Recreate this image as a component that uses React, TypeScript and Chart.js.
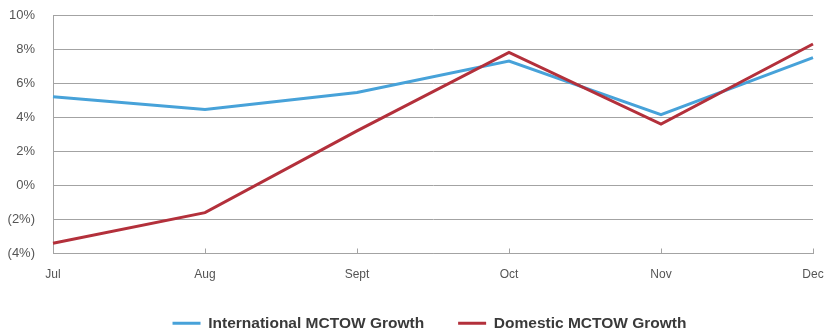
import React, { useEffect, useRef } from "react";
import { Chart, registerables } from "chart.js";

Chart.register(...registerables);

const months = ["Jul", "Aug", "Sept", "Oct", "Nov", "Dec"];
const internationalGrowth = [5.2, 4.45, 5.45, 7.3, 4.15, 7.5];
const domesticGrowth = [-3.4, -1.6, 3.2, 7.8, 3.6, 8.3];
const yTicks = [-4, -2, 0, 2, 4, 6, 8, 10];

const BLUE = "#47a2d9";
const RED = "#b3303b";
const GRID = "#a3a3a3";
const FONT = "'Liberation Sans', Arial, Helvetica, sans-serif";

const formatPct = (v: number) => (v < 0 ? `(${Math.abs(v)}%)` : `${v}%`);

// Short tick marks pointing up into the plot from the category axis
const innerTicks = {
  id: "innerTicks",
  afterDatasetsDraw(chart: any) {
    const x = chart.scales.x;
    const { ctx } = chart;
    const bottom = chart.chartArea.bottom;
    ctx.save();
    ctx.strokeStyle = GRID;
    ctx.lineWidth = 1;
    x.ticks.forEach((_: any, i: number) => {
      const px = Math.round(x.getPixelForTick(i)) + 0.5;
      ctx.beginPath();
      ctx.moveTo(px, bottom);
      ctx.lineTo(px, bottom - 5);
      ctx.stroke();
    });
    ctx.restore();
  },
};

// Let the legend box start higher and run to the canvas bottom, so the
// wide item spacing does not push its row out of view; centre it under the plot
const legendNudge = {
  id: "legendNudge",
  afterLayout(chart: any) {
    const lg = chart.legend;
    if (lg) {
      lg.top -= 16;
      lg.bottom = chart.height;
      lg.height = lg.bottom - lg.top;
      lg.left += 17;
      lg.right += 17;
    }
  },
};

export default function App() {
  const canvasRef = useRef<HTMLCanvasElement>(null);

  useEffect(() => {
    document.body.style.margin = "0";
    const chart = new Chart(canvasRef.current!, {
      type: "line",
      data: {
        labels: months,
        datasets: [
          {
            label: "International MCTOW Growth",
            data: internationalGrowth,
            borderColor: BLUE,
            backgroundColor: BLUE,
            borderWidth: 3,
            pointRadius: 0,
            tension: 0,
            order: 1,
          },
          {
            label: "Domestic MCTOW Growth",
            data: domesticGrowth,
            borderColor: RED,
            backgroundColor: RED,
            borderWidth: 3,
            pointRadius: 0,
            tension: 0,
            order: 0,
          },
        ],
      },
      options: {
        animation: false,
        responsive: false,
        layout: { padding: { top: 0, right: 0, left: 0, bottom: 0 } },
        plugins: {
          tooltip: { enabled: false },
          legend: {
            position: "bottom",
            maxHeight: 35.5,
            labels: {
              boxWidth: 28,
              boxHeight: 3,
              padding: 34,
              color: "#3a3a3a",
              font: { family: FONT, size: 15.5, weight: "bold" },
              sort: (a: any, b: any) => a.datasetIndex - b.datasetIndex,
              generateLabels: (c: any) =>
                Chart.defaults.plugins.legend.labels
                  .generateLabels(c)
                  .map((l: any) => ({ ...l, lineWidth: 0 })),
            },
          },
        },
        scales: {
          x: {
            offset: false,
            grid: { display: false, drawTicks: false },
            border: { display: true, color: GRID },
            ticks: {
              color: "#555",
              padding: 14,
              font: { family: FONT, size: 12 },
            },
            afterFit: (s: any) => {
              s.height = 44;
              s.paddingLeft = 0;
              s.paddingRight = 12;
            },
          },
          y: {
            min: -4,
            max: 10,
            afterBuildTicks: (s: any) => {
              s.ticks = yTicks.map((v) => ({ value: v }));
            },
            grid: { color: GRID, drawTicks: false },
            border: { display: true, color: GRID },
            ticks: {
              color: "#555",
              padding: 18,
              font: { family: FONT, size: 13 },
              callback: (v: any) => formatPct(Number(v)),
            },
            afterFit: (s: any) => {
              s.width = 53;
              s.paddingTop = 15;
              s.paddingBottom = 0;
            },
          },
        },
      },
      plugins: [innerTicks, legendNudge],
    });
    return () => chart.destroy();
  }, []);

  return <canvas ref={canvasRef} width={825} height={333} />;
}
